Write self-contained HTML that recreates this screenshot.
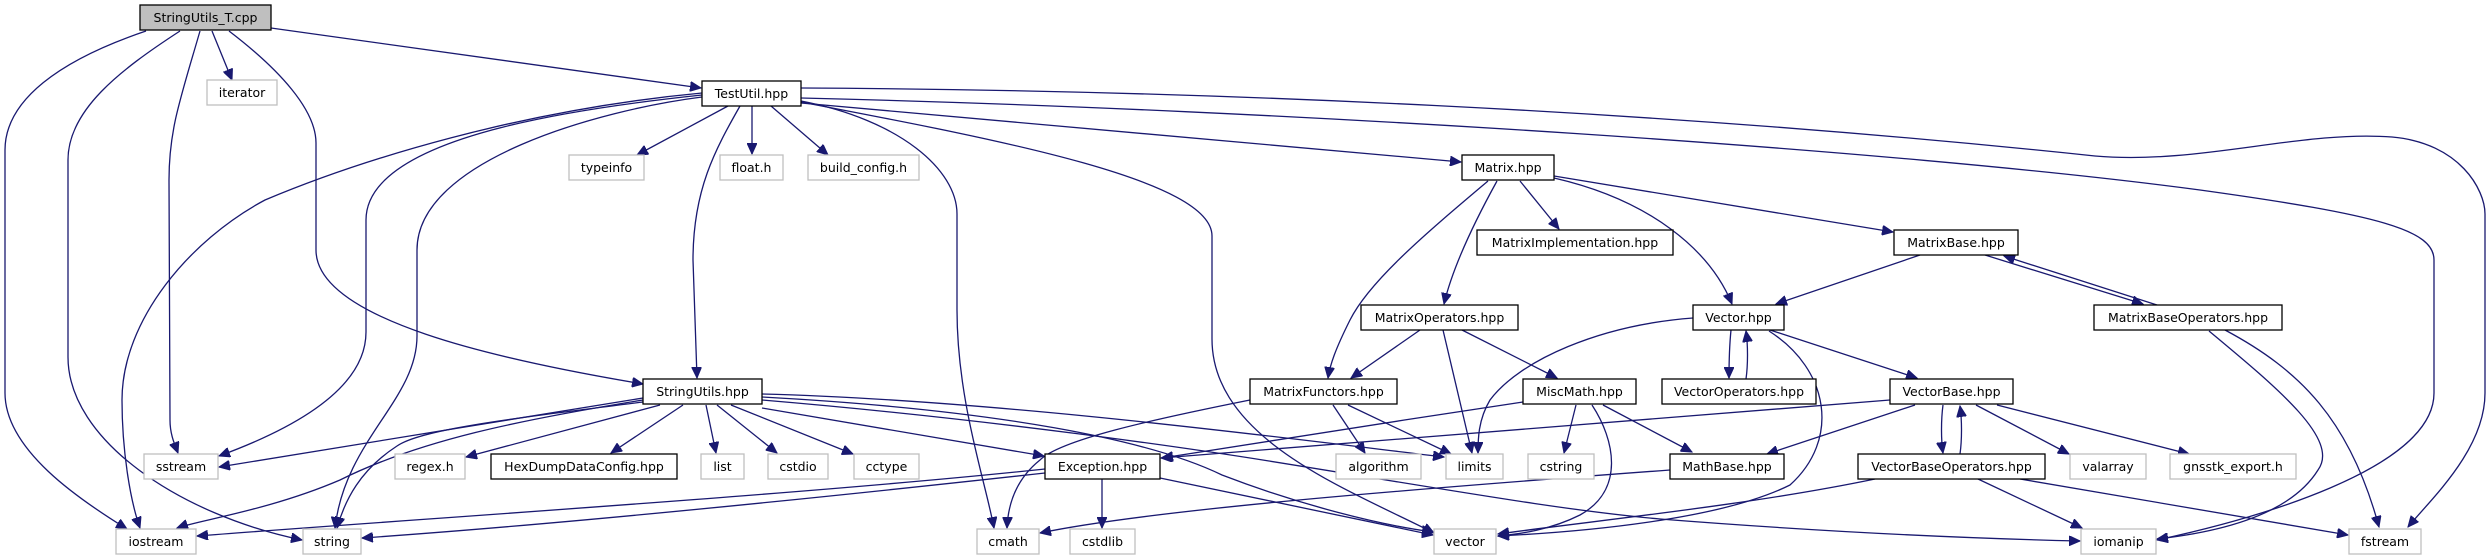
<!DOCTYPE html>
<html><head><meta charset="utf-8"><style>
html,body{margin:0;padding:0;background:#fff;}
svg{display:block;}
text{font-family:"DejaVu Sans","Liberation Sans",sans-serif;font-size:12.5px;fill:#000;text-anchor:middle;}
.e{fill:none;stroke:#191970;stroke-width:1.3;marker-end:url(#a);}
.d{fill:#fff;stroke:#000;stroke-width:1.3;}
.x{fill:#fff;stroke:#bfbfbf;stroke-width:1.3;}
</style></head><body>
<svg width="2492" height="560" viewBox="0 0 2492 560" xmlns="http://www.w3.org/2000/svg">
<defs><marker id="a" markerUnits="userSpaceOnUse" markerWidth="12" markerHeight="10" refX="11" refY="5" orient="auto"><path d="M0,0 L11,5 L0,10 Z" fill="#191970" stroke="#191970"/></marker></defs>
<g>
<!-- StringUtils_T.cpp edges -->
<path class="e" d="M146,31 C60,60 5,100 5,150 L5,393 C5,450 80,500 127,529"/>
<path class="e" d="M180,31 C120,70 68,110 68,160 L68,357 C68,440 180,515 302,540"/>
<path class="e" d="M200,31 C180,100 169,130 169,180 L170,420 C170,435 175,445 178,453"/>
<path class="e" d="M212,31 L232,80"/>
<path class="e" d="M229,31 C280,70 316,110 316,143 L316,250 C316,320 500,360 643,384"/>
<path class="e" d="M271,28 L701,88"/>
<!-- TestUtil edges -->
<path class="e" d="M728,106 L637,155"/>
<path class="e" d="M752,106 L752,154"/>
<path class="e" d="M771,106 L828,155"/>
<path class="e" d="M740,106 C715,150 693,190 693,260 L697,378"/>
<path class="e" d="M702,95 C560,110 366,140 366,220 L366,332 C366,390 290,430 219,456"/>
<path class="e" d="M702,97 C600,110 417,160 417,250 L417,336 C417,400 345,440 335,528"/>
<path class="e" d="M702,93 C520,110 360,160 265,200 C190,240 122,320 122,400 C122,450 130,500 140,528"/>
<path class="e" d="M801,101 C900,120 957,170 957,214 L957,310 C957,400 985,480 994,528"/>
<path class="e" d="M801,102 C1000,140 1212,180 1212,236 L1212,339 C1212,440 1350,490 1434,533"/>
<path class="e" d="M801,103 L1461,162"/>
<path class="e" d="M801,88 C1200,90 1660,110 2095,156 C2200,165 2300,130 2392,137 C2460,143 2485,190 2485,214 L2485,393 C2485,450 2430,500 2408,527"/>
<path class="e" d="M801,98 C1300,110 1900,150 2200,190 C2380,215 2434,230 2434,260 L2434,393 C2434,470 2250,520 2157,540"/>
<!-- Matrix.hpp -->
<path class="e" d="M1520,181 L1559,229"/>
<path class="e" d="M1497,181 C1470,230 1452,270 1444,304"/>
<path class="e" d="M1488,181 C1430,230 1370,280 1350,320 C1335,350 1330,365 1328,378"/>
<path class="e" d="M1554,176 L1893,232"/>
<path class="e" d="M1554,178 C1650,200 1710,250 1732,304"/>
<!-- MatrixOperators -->
<path class="e" d="M1420,330 L1351,378"/>
<path class="e" d="M1443,330 L1472,453"/>
<path class="e" d="M1462,330 L1557,378"/>
<!-- MatrixBase -->
<path class="e" d="M1920,255 L1776,304"/>
<path class="e" d="M1985,255 L2143,304"/>
<path class="e" d="M2157,305 L2004,256"/>
<path class="e" d="M2209,331 C2280,390 2340,440 2318,470 C2290,515 2220,532 2157,539"/>
<path class="e" d="M2225,330 C2300,370 2350,420 2379,527"/>
<!-- Vector.hpp -->
<path class="e" d="M1731,330 C1729,350 1729,365 1729,378"/>
<path class="e" d="M1746,379 C1748,365 1748,345 1746,331"/>
<path class="e" d="M1770,330 L1917,378"/>
<path class="e" d="M1693,318 C1600,325 1520,360 1490,400 C1478,420 1478,440 1478,453"/>
<path class="e" d="M1769,331 C1830,370 1840,440 1790,485 C1720,520 1580,532 1498,536"/>
<!-- VectorBase -->
<path class="e" d="M1890,400 L1161,458"/>
<path class="e" d="M1915,405 L1767,454"/>
<path class="e" d="M1943,405 C1941,420 1941,440 1943,453"/>
<path class="e" d="M1960,454 C1962,440 1962,420 1960,406"/>
<path class="e" d="M1976,405 L2069,454"/>
<path class="e" d="M1997,405 L2189,454"/>
<!-- VectorBaseOperators -->
<path class="e" d="M1875,479 C1750,505 1600,520 1498,534"/>
<path class="e" d="M1978,479 L2082,528"/>
<path class="e" d="M2020,479 L2348,535"/>
<!-- MiscMath -->
<path class="e" d="M1523,402 C1400,420 1250,445 1162,458"/>
<path class="e" d="M1576,405 L1564,453"/>
<path class="e" d="M1592,405 C1615,440 1625,490 1580,515 C1550,530 1520,534 1498,536"/>
<path class="e" d="M1603,405 L1692,452"/>
<!-- MathBase -->
<path class="e" d="M1670,470 C1400,490 1150,510 1040,533"/>
<!-- MatrixFunctors -->
<path class="e" d="M1250,400 C1150,420 1060,440 1040,460 C1015,480 1008,505 1007,528"/>
<path class="e" d="M1333,405 L1365,453"/>
<path class="e" d="M1348,405 L1451,454"/>
<!-- Exception -->
<path class="e" d="M1045,469 C800,495 400,520 197,536"/>
<path class="e" d="M1045,473 C800,500 550,525 362,538"/>
<path class="e" d="M1102,479 L1102,528"/>
<path class="e" d="M1160,478 L1433,535"/>
<!-- StringUtils.hpp -->
<path class="e" d="M643,398 L219,467"/>
<path class="e" d="M643,400 C520,420 420,440 340,480 C270,510 200,520 177,528"/>
<path class="e" d="M643,402 C500,420 420,430 397,446 C360,470 345,500 337,528"/>
<path class="e" d="M660,405 L466,457"/>
<path class="e" d="M683,405 L611,453"/>
<path class="e" d="M706,405 L716,453"/>
<path class="e" d="M717,405 L777,453"/>
<path class="e" d="M731,405 L853,454"/>
<path class="e" d="M762,408 L1044,456"/>
<path class="e" d="M762,394 C1000,400 1300,440 1444,457"/>
<path class="e" d="M762,397 C1000,410 1150,440 1222,475 C1300,505 1380,525 1433,532"/>
<path class="e" d="M762,400 C1000,420 1200,450 1269,461 C1450,490 1560,510 1660,519 C1800,530 1950,538 2080,541"/>
</g>
<g>
<rect x="140" y="5" width="131" height="25" fill="#bfbfbf" stroke="#000" stroke-width="1.3"/><text x="205.5" y="22">StringUtils_T.cpp</text>
<rect class="x" x="207" y="80" width="70" height="25"/><text x="242" y="97">iterator</text>
<rect class="d" x="702" y="81" width="99" height="25"/><text x="751.5" y="98">TestUtil.hpp</text>
<rect class="x" x="569" y="155" width="75" height="25"/><text x="606.5" y="172">typeinfo</text>
<rect class="x" x="720" y="155" width="63" height="25"/><text x="751.5" y="172">float.h</text>
<rect class="x" x="808" y="155" width="111" height="25"/><text x="863.5" y="172">build_config.h</text>
<rect class="d" x="1462" y="155" width="92" height="25"/><text x="1508" y="172">Matrix.hpp</text>
<rect class="d" x="1477" y="230" width="196" height="25"/><text x="1575" y="247">MatrixImplementation.hpp</text>
<rect class="d" x="1894" y="230" width="124" height="25"/><text x="1956" y="247">MatrixBase.hpp</text>
<rect class="d" x="1361" y="305" width="157" height="25"/><text x="1439.5" y="322">MatrixOperators.hpp</text>
<rect class="d" x="1693" y="305" width="91" height="25"/><text x="1738.5" y="322">Vector.hpp</text>
<rect class="d" x="2094" y="305" width="188" height="25"/><text x="2188" y="322">MatrixBaseOperators.hpp</text>
<rect class="d" x="643" y="379" width="119" height="25"/><text x="702.5" y="396">StringUtils.hpp</text>
<rect class="d" x="1250" y="379" width="147" height="25"/><text x="1323.5" y="396">MatrixFunctors.hpp</text>
<rect class="d" x="1523" y="379" width="113" height="25"/><text x="1579.5" y="396">MiscMath.hpp</text>
<rect class="d" x="1662" y="379" width="154" height="25"/><text x="1739" y="396">VectorOperators.hpp</text>
<rect class="d" x="1890" y="379" width="123" height="25"/><text x="1951.5" y="396">VectorBase.hpp</text>
<rect class="x" x="144" y="454" width="74" height="25"/><text x="181" y="471">sstream</text>
<rect class="x" x="395" y="454" width="70" height="25"/><text x="430" y="471">regex.h</text>
<rect class="d" x="491" y="454" width="186" height="25"/><text x="584" y="471">HexDumpDataConfig.hpp</text>
<rect class="x" x="701" y="454" width="43" height="25"/><text x="722.5" y="471">list</text>
<rect class="x" x="768" y="454" width="60" height="25"/><text x="798" y="471">cstdio</text>
<rect class="x" x="854" y="454" width="65" height="25"/><text x="886.5" y="471">cctype</text>
<rect class="d" x="1045" y="454" width="115" height="25"/><text x="1102.5" y="471">Exception.hpp</text>
<rect class="x" x="1336" y="454" width="85" height="25"/><text x="1378.5" y="471">algorithm</text>
<rect class="x" x="1446" y="454" width="57" height="25"/><text x="1474.5" y="471">limits</text>
<rect class="x" x="1528" y="454" width="66" height="25"/><text x="1561" y="471">cstring</text>
<rect class="d" x="1670" y="454" width="114" height="25"/><text x="1727" y="471">MathBase.hpp</text>
<rect class="d" x="1858" y="454" width="187" height="25"/><text x="1951.5" y="471">VectorBaseOperators.hpp</text>
<rect class="x" x="2070" y="454" width="76" height="25"/><text x="2108" y="471">valarray</text>
<rect class="x" x="2170" y="454" width="126" height="25"/><text x="2233" y="471">gnsstk_export.h</text>
<rect class="x" x="116" y="529" width="80" height="25"/><text x="156" y="546">iostream</text>
<rect class="x" x="303" y="529" width="58" height="25"/><text x="332" y="546">string</text>
<rect class="x" x="977" y="529" width="62" height="25"/><text x="1008" y="546">cmath</text>
<rect class="x" x="1070" y="529" width="65" height="25"/><text x="1102.5" y="546">cstdlib</text>
<rect class="x" x="1434" y="529" width="62" height="25"/><text x="1465" y="546">vector</text>
<rect class="x" x="2081" y="529" width="75" height="25"/><text x="2118.5" y="546">iomanip</text>
<rect class="x" x="2349" y="529" width="72" height="25"/><text x="2385" y="546">fstream</text>
</g>
</svg>
</body></html>
